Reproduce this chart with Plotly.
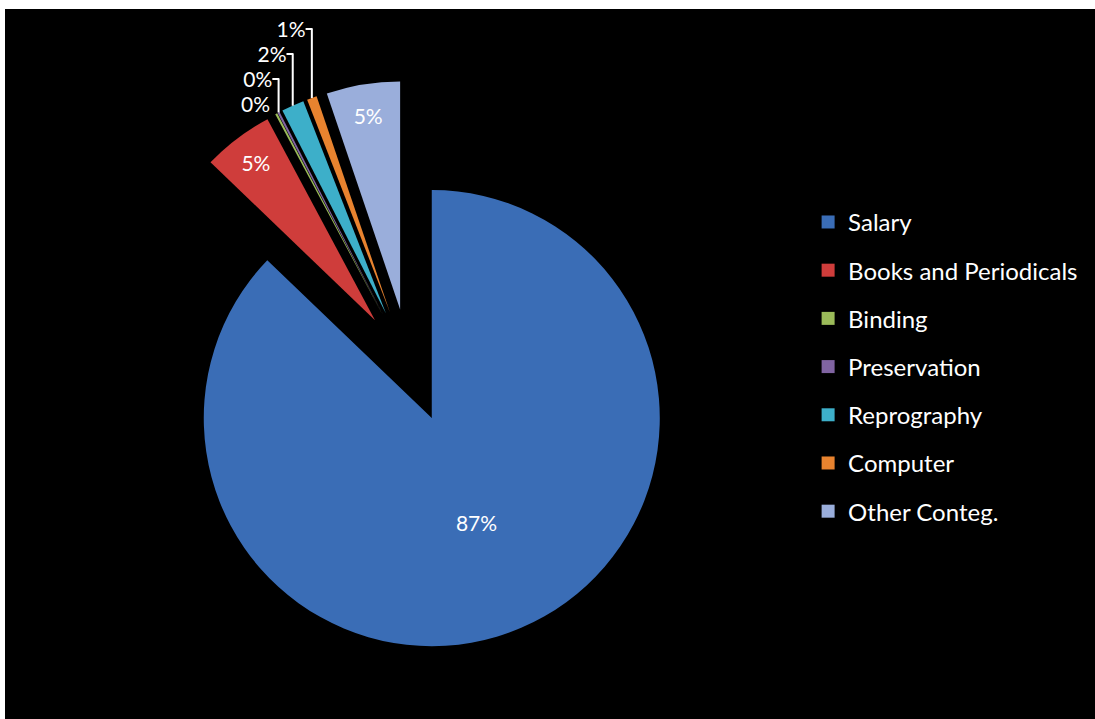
import plotly.graph_objects as go

labels = ["Salary", "Books and Periodicals", "Binding", "Preservation",
          "Reprography", "Computer", "Other Conteg."]
values = [87.0, 5.0, 0.15, 0.15, 1.6, 0.7, 5.2]
colors = ["#3A6DB6", "#CF3D3B", "#9BBB59", "#8064A2", "#3DAFC9", "#E8832F", "#9AAEDB"]
textpos = ["inside", "inside", "outside", "outside", "outside", "outside", "inside"]

W, H = 1095, 719

fig = go.Figure()
fig.add_trace(go.Pie(
    labels=labels, values=values, sort=False, direction="clockwise", rotation=0,
    pull=[0.25] * len(values),
    marker=dict(colors=colors, line=dict(width=0)),
    texttemplate="%{percent:.0%}",
    textposition=textpos,
    insidetextorientation="horizontal",
    textfont=dict(family="Lato", size=23, color="white"),
    outsidetextfont=dict(family="Lato", size=21, color="white"),
    showlegend=False,
    domain=dict(x=[0.1136, 0.6342], y=[0.0950, 0.8878]),
))

# legend entries
for i, (lab, col) in enumerate(zip(labels, colors)):
    fig.add_trace(go.Scatter(
        x=[None], y=[None], mode="markers", name=lab,
        marker=dict(symbol="square", size=13, color=col),
        legendgroup=f"g{i}", showlegend=True,
    ))

fig.update_layout(
    width=W, height=H,
    margin=dict(l=0, r=0, t=0, b=0, autoexpand=False),
    paper_bgcolor="black", plot_bgcolor="black",
    xaxis=dict(visible=False), yaxis=dict(visible=False),
    font=dict(family="Lato", size=24, color="white"),
    uniformtext=dict(minsize=21, mode="show"),
    legend=dict(x=0.738, y=0.722, xanchor="left", yanchor="top",
                tracegroupgap=14, bgcolor="rgba(0,0,0,0)",
                font=dict(family="Lato", size=24, color="white")),
    shapes=[
        dict(type="rect", xref="paper", yref="paper", x0=0, x1=1, y0=1 - 9 / H, y1=1,
             fillcolor="white", line=dict(width=0)),
        dict(type="rect", xref="paper", yref="paper", x0=0, x1=5 / W, y0=0, y1=1,
             fillcolor="white", line=dict(width=0)),
    ],
)

fig.write_html("out.html")
